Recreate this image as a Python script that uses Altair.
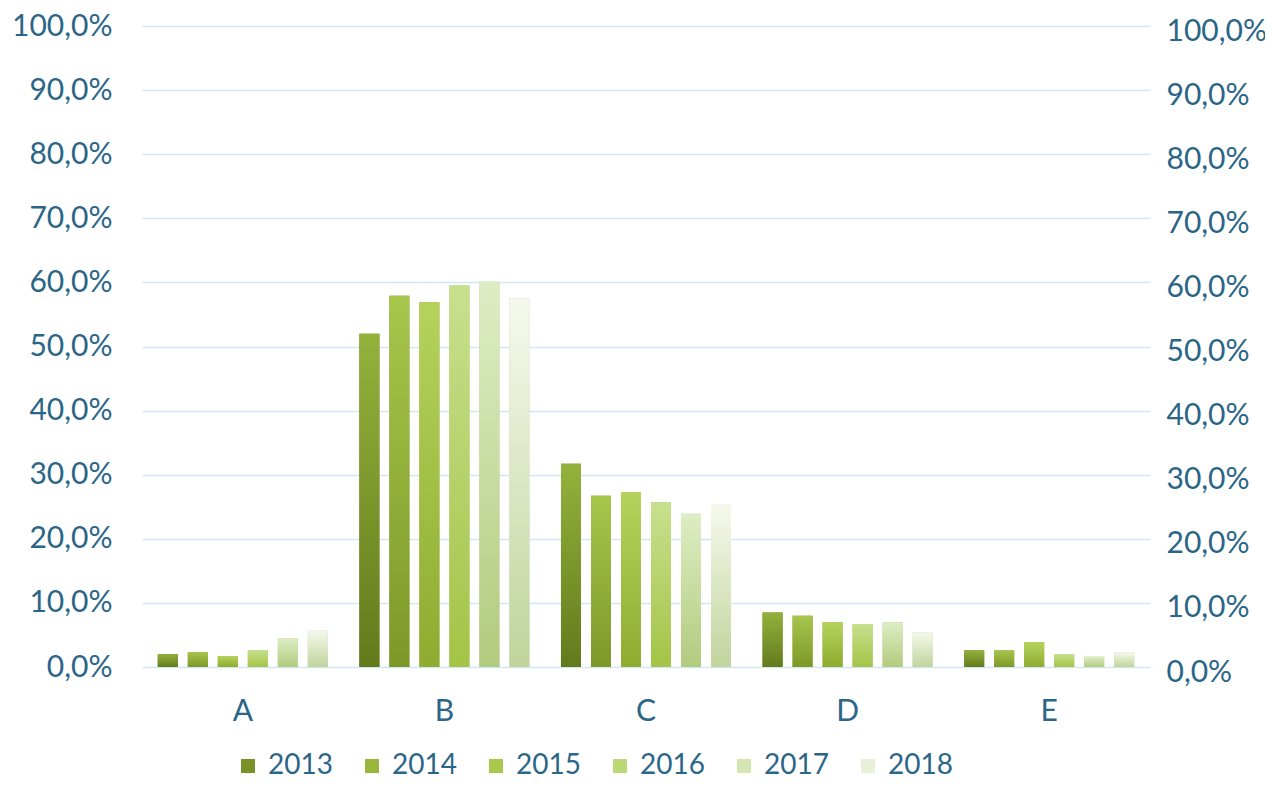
import altair as alt
import pandas as pd

categories = ["A", "B", "C", "D", "E"]
years = ["2013", "2014", "2015", "2016", "2017", "2018"]

v2013 = [0.020, 0.520, 0.317, 0.085, 0.026]
v2014 = [0.023, 0.579, 0.267, 0.080, 0.026]
v2015 = [0.017, 0.569, 0.273, 0.070, 0.039]
v2016 = [0.026, 0.595, 0.257, 0.067, 0.020]
v2017 = [0.045, 0.601, 0.239, 0.070, 0.016]
v2018 = [0.057, 0.575, 0.253, 0.054, 0.023]
series = [v2013, v2014, v2015, v2016, v2017, v2018]

top_colors = ["#93b23c", "#a7c64c", "#b5d35c", "#c7e08e", "#deedc4", "#f6f9ec"]
bottom_colors = ["#637a1c", "#7e9828", "#8fab30", "#a3c446", "#b1cb7e", "#c0d49b"]
legend_colors = ["#7a9128", "#98b53c", "#a8c84c", "#bcd978", "#d3e6b0", "#e8f0d8"]

tick_values = [0.0, 0.1, 0.2, 0.3, 0.4, 0.5, 0.6, 0.7, 0.8, 0.9, 1.0]

rows = []
for yr, vals in zip(years, series):
    for c, v in zip(categories, vals):
        rows.append({"cat": c, "year": yr, "value": v})
df = pd.DataFrame(rows)

FONT = "Lato"
TXT = "#2b6688"
GRID = "#d2e7f4"
label_expr = "replace(format(datum.value, '.1%'), '.', ',')"

x_enc = alt.X(
    "cat:N",
    scale=alt.Scale(paddingInner=0.1, paddingOuter=0.05),
    axis=alt.Axis(title=None, domain=False, ticks=False, labelAngle=0,
                  labelFont=FONT, labelFontSize=30, labelColor=TXT, labelPadding=29),
)
xo_enc = alt.XOffset("year:N", scale=alt.Scale(paddingInner=0.333, paddingOuter=0.19))

base = alt.Chart(df).mark_bar().encode(
    x=x_enc,
    xOffset=xo_enc,
    y=alt.Y(
        "value:Q",
        scale=alt.Scale(domain=[0, 1]),
        axis=alt.Axis(title=None, values=tick_values, labelExpr=label_expr,
                      domain=False, ticks=False, grid=True, gridColor=GRID, gridWidth=1.6,
                      labelFont=FONT, labelFontSize=30, labelColor=TXT, labelPadding=30),
    ),
    color=alt.Color(
        "year:N",
        scale=alt.Scale(domain=years, range=legend_colors),
        legend=alt.Legend(orient="none", legendX=92, legendY=726, direction="horizontal",
                          title=None, symbolType="square", symbolSize=196,
                          symbolStrokeWidth=0, labelFont=FONT, labelFontSize=28,
                          labelColor=TXT, columnPadding=25, labelOffset=6, padding=0),
    ),
)

shadow = alt.Chart(df).mark_bar(fill="#000000", opacity=0.13, xOffset=3).encode(
    x="cat:N",
    xOffset="year:N",
    y="value:Q",
)

grad_layers = []
for yr, tc, bc in zip(years, top_colors, bottom_colors):
    g = alt.Chart(df).transform_filter(alt.datum.year == yr).mark_bar(
        fill=alt.Gradient(
            gradient="linear", x1=0, x2=0, y1=0, y2=1,
            stops=[alt.GradientStop(color=tc, offset=0), alt.GradientStop(color=bc, offset=1)],
        )
    ).encode(
        x="cat:N",
        xOffset="year:N",
        y="value:Q",
    )
    grad_layers.append(g)

bars = alt.layer(base, shadow, *grad_layers)

right_axis = alt.Chart(df).mark_bar(opacity=0).encode(
    x="cat:N",
    xOffset="year:N",
    y=alt.Y(
        "value:Q",
        scale=alt.Scale(domain=[0, 1]),
        axis=alt.Axis(orient="right", title=None, values=tick_values, labelExpr=label_expr,
                      domain=False, ticks=False, grid=False, labelOffset=5,
                      labelFont=FONT, labelFontSize=30, labelColor=TXT, labelPadding=16),
    ),
)

chart = alt.layer(bars, right_axis).resolve_scale(y="independent").properties(
    width=1008,
    height=641,
    padding={"left": 134, "top": 18, "right": 115, "bottom": 111},
    autosize=alt.AutoSizeParams(type="none"),
    background="white",
).configure_view(stroke=None)

chart.save("out.html", embed_options={"renderer": "svg", "actions": False})
